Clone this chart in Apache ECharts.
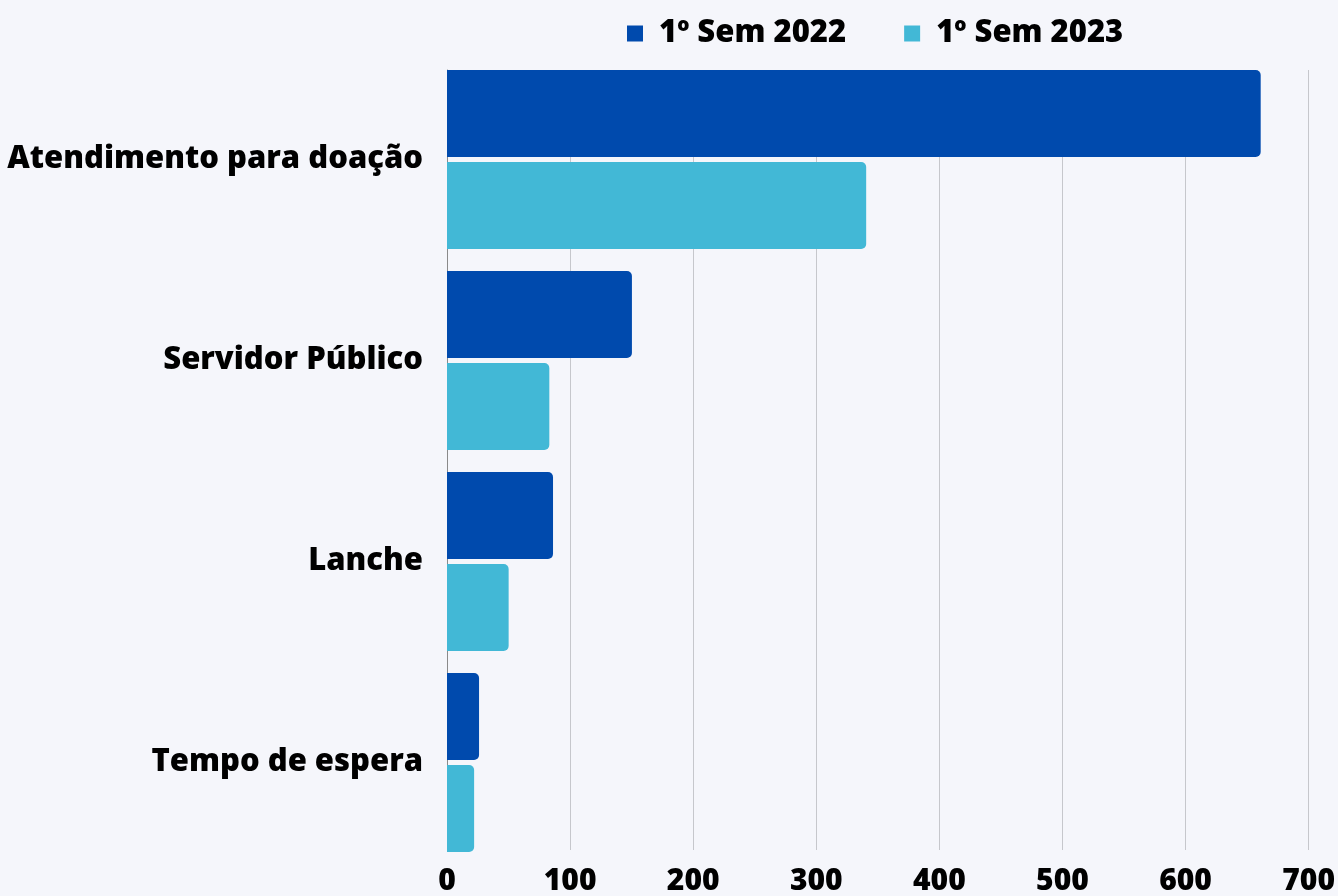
<!DOCTYPE html>
<html>
<head>
<meta charset="utf-8">
<script src="https://cdn.jsdelivr.net/npm/echarts@6/dist/echarts.min.js"></script>
<style>
  html, body { margin: 0; padding: 0; background: #f5f6fb; }
  #chart { width: 1338px; height: 896px; }
</style>
</head>
<body>
<div id="chart"></div>
<script>
const categories = ['Atendimento para doação', 'Servidor Público', 'Lanche', 'Tempo de espera']
const sem2022 = [660, 150, 86, 26]
const sem2023 = [340, 83, 50, 22]
const seriesNames = ['1º Sem 2022', '1º Sem 2023']
const xTicks = [0, 100, 200, 300, 400, 500, 600, 700]

const font = '"Open Sans", sans-serif'
const chart = echarts.init(document.getElementById('chart'))

const option = {
    backgroundColor: '#f5f6fb',
    legend: {
        left: 622,
        top: 13,
        itemWidth: 16,
        itemHeight: 16,
        itemGap: 58,
        icon: 'rect',
        textStyle: {
            fontFamily: font,
            fontWeight: 800,
            fontSize: 31,
            color: '#000',
            padding: [0, 0, 0, 11]
        },
        data: seriesNames
    },
    grid: [
        // bars
        { left: 447, right: 28, top: 59, bottom: 33 },
        // grid lines + tick labels
        { left: 447, right: 28, top: 70, bottom: 44 }
    ],
    xAxis: [
        {
            gridIndex: 0, type: 'value', min: 0, max: 700, interval: 100,
            axisLabel: { show: false }, splitLine: { show: false },
            axisLine: { show: false }, axisTick: { show: false }
        },
        {
            gridIndex: 1, type: 'value', min: xTicks[0], max: xTicks[xTicks.length - 1], interval: 100,
            axisLabel: {
                margin: 16, color: '#000', fontFamily: font, fontWeight: 800, fontSize: 30
            },
            splitLine: { show: true, lineStyle: { color: '#c6c7cc', width: 1 } },
            axisLine: { show: false }, axisTick: { show: false }
        }
    ],
    yAxis: [
        {
            gridIndex: 0, type: 'category', inverse: true, data: categories,
            axisLine: { show: false }, axisTick: { show: false },
            axisLabel: {
                margin: 24, color: '#000', fontFamily: font, fontWeight: 800, fontSize: 31
            }
        },
        {
            gridIndex: 1, type: 'category', inverse: true, data: categories,
            axisLine: { show: true, lineStyle: { color: '#8a8a8a', width: 1 } },
            axisTick: { show: false }, axisLabel: { show: false }
        }
    ],
    series: [
        {
            name: seriesNames[0], type: 'bar', xAxisIndex: 0, yAxisIndex: 0,
            data: sem2022, barCategoryGap: '11%', barGap: '6%',
            itemStyle: { color: '#004aad', borderRadius: [0, 5, 5, 0] }
        },
        {
            name: seriesNames[1], type: 'bar', xAxisIndex: 0, yAxisIndex: 0,
            data: sem2023, barCategoryGap: '11%', barGap: '6%',
            itemStyle: { color: '#42b8d6', borderRadius: [0, 5, 5, 0] }
        }
    ]
}

chart.setOption(option)
</script>
</body>
</html>
